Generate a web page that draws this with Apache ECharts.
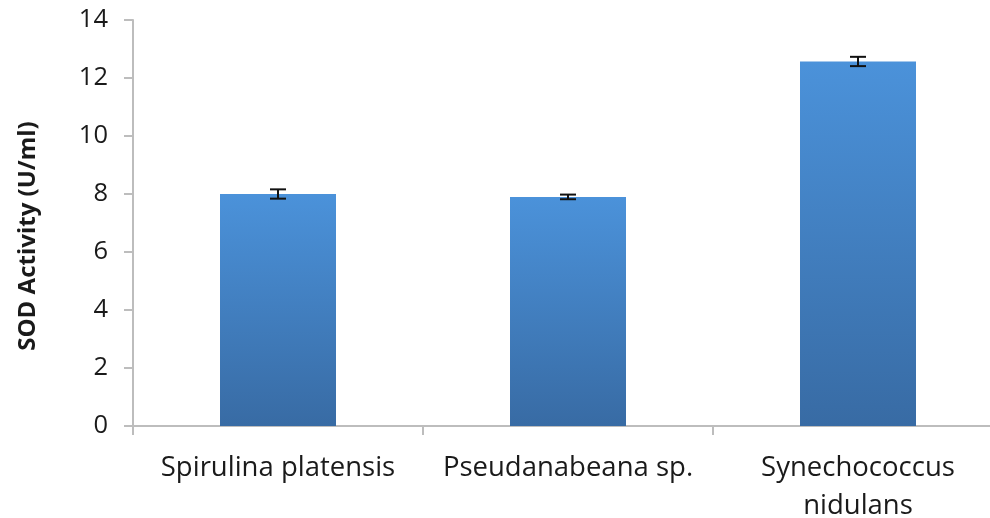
<!DOCTYPE html>
<html>
<head>
<meta charset="utf-8">
<script src="https://cdn.jsdelivr.net/npm/echarts@6/dist/echarts.min.js"></script>
<style>
  html, body { margin: 0; padding: 0; background: #fff; }
  #sodChart { width: 990px; height: 518px; }
</style>
</head>
<body>
<div id="sodChart"></div>
<script>
var strains = ['Spirulina platensis', 'Pseudanabeana sp.', 'Synechococcus\nnidulans'];
var sodActivity = [8.0, 7.9, 12.57];
var sodError = [0.16, 0.08, 0.16];
var yTicks = [0, 2, 4, 6, 8, 10, 12, 14];

var chartDom = document.getElementById('sodChart');
var sodChart = echarts.init(chartDom);

var errorData = sodActivity.map(function (v, i) {
  return [i, v - sodError[i], v + sodError[i]];
});

var option = {
  animation: false,
  grid: {
    left: 133,
    top: 20,
    height: 406,
    width: 870,
    outerBoundsMode: 'none',
    containLabel: false
  },
  xAxis: {
    type: 'category',
    data: strains,
    axisLine: { lineStyle: { color: '#bdbdbd', width: 2 } },
    axisTick: { show: true, length: 9, lineStyle: { color: '#bdbdbd', width: 2 } },
    axisLabel: {
      interval: 0,
      hideOverlap: false,
      color: '#1a1a1a',
      fontFamily: 'Open Sans',
      fontSize: 27.5,
      lineHeight: 38,
      margin: 23
    }
  },
  yAxis: {
    type: 'value',
    min: yTicks[0],
    max: yTicks[yTicks.length - 1],
    interval: 2,
    name: 'SOD Activity (U/ml)',
    nameLocation: 'middle',
    nameGap: 93,
    nameTextStyle: {
      color: '#1a1a1a',
      fontFamily: 'Open Sans',
      fontWeight: 'bold',
      fontSize: 24,
      padding: [0, 26, 0, 0]
    },
    axisLine: { show: true, lineStyle: { color: '#bdbdbd', width: 2 } },
    axisTick: { show: true, length: 9, lineStyle: { color: '#bdbdbd', width: 2 } },
    splitLine: { show: false },
    axisLabel: {
      color: '#1a1a1a',
      fontFamily: 'Open Sans',
      fontSize: 25.5,
      margin: 25
    }
  },
  series: [
    {
      type: 'bar',
      data: sodActivity,
      barWidth: '40%',
      itemStyle: {
        color: new echarts.graphic.LinearGradient(0, 0, 0, 1, [
          { offset: 0, color: '#4b92da' },
          { offset: 1, color: '#386ba4' }
        ])
      }
    },
    {
      type: 'custom',
      data: errorData,
      z: 10,
      renderItem: function (params, api) {
        var x = api.coord([api.value(0), api.value(1)])[0];
        var lo = api.coord([api.value(0), api.value(1)])[1];
        var hi = api.coord([api.value(0), api.value(2)])[1];
        var half = 8;
        var style = { stroke: '#111', lineWidth: 2 };
        return {
          type: 'group',
          children: [
            { type: 'line', shape: { x1: x, y1: hi, x2: x, y2: lo }, style: style },
            { type: 'line', shape: { x1: x - half, y1: hi, x2: x + half, y2: hi }, style: style },
            { type: 'line', shape: { x1: x - half, y1: lo, x2: x + half, y2: lo }, style: style }
          ]
        };
      }
    }
  ]
};

sodChart.setOption(option);
</script>
</body>
</html>
